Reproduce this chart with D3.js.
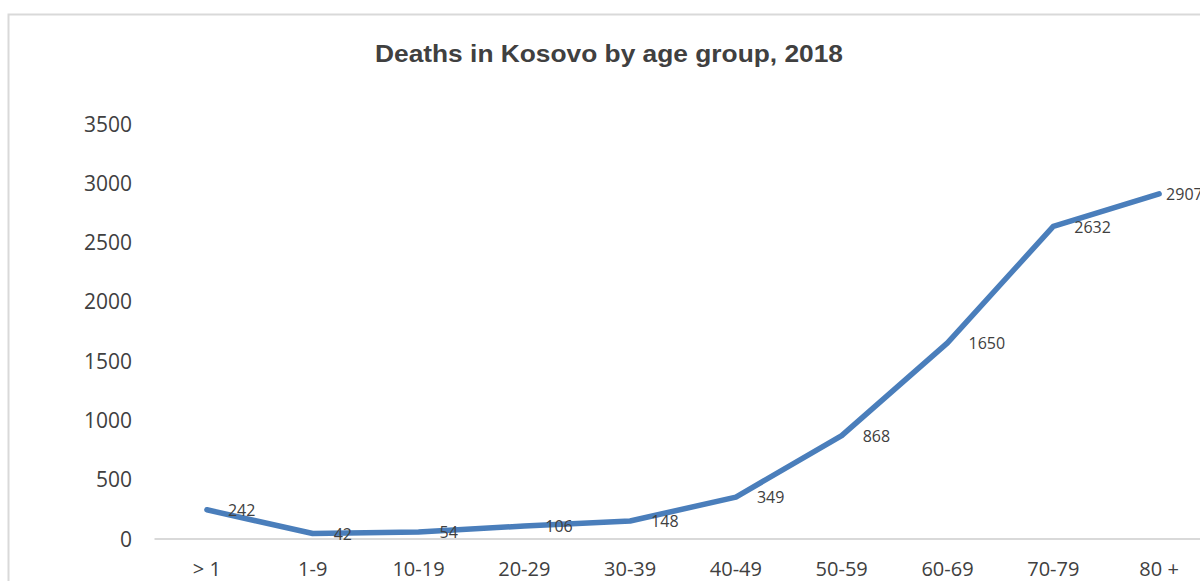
<!DOCTYPE html>
<html>
<head>
<meta charset="utf-8">
<script src="https://cdn.jsdelivr.net/npm/d3@7"></script>
<style>
  body { margin: 0; background: #fff; }
  svg { display: block; }
</style>
</head>
<body>
<div id="app"></div>
<script>
const ageGroups = ['> 1', '1-9', '10-19', '20-29', '30-39', '40-49', '50-59', '60-69', '70-79', '80 +'];
const deaths = [242, 42, 54, 106, 148, 349, 868, 1650, 2632, 2907];
const yTicks = [0, 500, 1000, 1500, 2000, 2500, 3000, 3500];
const chartTitle = 'Deaths in Kosovo by age group, 2018';

const width = 1200;
const height = 581;
const margin = { top: 123.5, left: 154 };
const baseY = 538.5;
const textColor = '#404040';
const lineColor = '#4a7ebb';
const axisColor = '#d9d9d9';

const svg = d3.select('#app')
  .append('svg')
  .attr('width', width)
  .attr('height', height);

// chart frame (runs off the right and bottom edges)
svg.append('rect')
  .attr('x', 8.5)
  .attr('y', 14.5)
  .attr('width', 1300)
  .attr('height', 700)
  .attr('fill', 'none')
  .attr('stroke', axisColor)
  .attr('stroke-width', 2);

svg.append('text')
  .attr('x', 609)
  .attr('y', 62)
  .attr('text-anchor', 'middle')
  .attr('font-family', '"Liberation Sans", Arial, sans-serif')
  .attr('font-weight', 'bold')
  .attr('font-size', 24)
  .attr('fill', textColor)
  .attr('textLength', 468)
  .attr('lengthAdjust', 'spacingAndGlyphs')
  .text(chartTitle);

const xScale = d3.scaleBand()
  .domain(ageGroups)
  .range([margin.left, margin.left + 1058]);

const yScale = d3.scaleLinear()
  .domain([0, 3500])
  .range([baseY, margin.top]);

// y axis labels, no axis line
const yAxis = svg.append('g')
  .attr('transform', 'translate(132,0)')
  .call(d3.axisLeft(yScale).tickValues(yTicks).tickFormat(d3.format('d')).tickSize(0).tickPadding(0));
yAxis.select('.domain').remove();
yAxis.selectAll('text')
  .attr('font-family', '"Open Sans", sans-serif')
  .attr('font-size', 21)
  .attr('fill', textColor)
  .attr('dy', '0.36em');

// x axis
const xAxis = svg.append('g')
  .attr('transform', `translate(0,${yScale(0)})`)
  .call(d3.axisBottom(xScale).tickSize(0).tickPadding(0));
xAxis.select('.domain')
  .attr('stroke', axisColor)
  .attr('stroke-width', 2);
xAxis.selectAll('text')
  .attr('font-family', '"Open Sans", sans-serif')
  .attr('font-size', 20)
  .attr('fill', textColor)
  .attr('dy', null)
  .attr('y', 37);

const xCenter = d => xScale(d) + xScale.bandwidth() / 2;

const line = d3.line()
  .x((d, i) => xCenter(ageGroups[i]))
  .y(d => yScale(d));

svg.append('path')
  .datum(deaths)
  .attr('d', line)
  .attr('fill', 'none')
  .attr('stroke', lineColor)
  .attr('stroke-width', 5.5)
  .attr('stroke-linejoin', 'round')
  .attr('stroke-linecap', 'round');

// data labels right of points
svg.append('g')
  .selectAll('text')
  .data(deaths)
  .join('text')
  .attr('x', (d, i) => xCenter(ageGroups[i]) + (i === deaths.length - 1 ? 7 : 21))
  .attr('y', d => yScale(d))
  .attr('dy', '0.38em')
  .attr('font-family', '"Open Sans", sans-serif')
  .attr('font-size', 16)
  .attr('fill', textColor)
  .text(d => d);
</script>
</body>
</html>
